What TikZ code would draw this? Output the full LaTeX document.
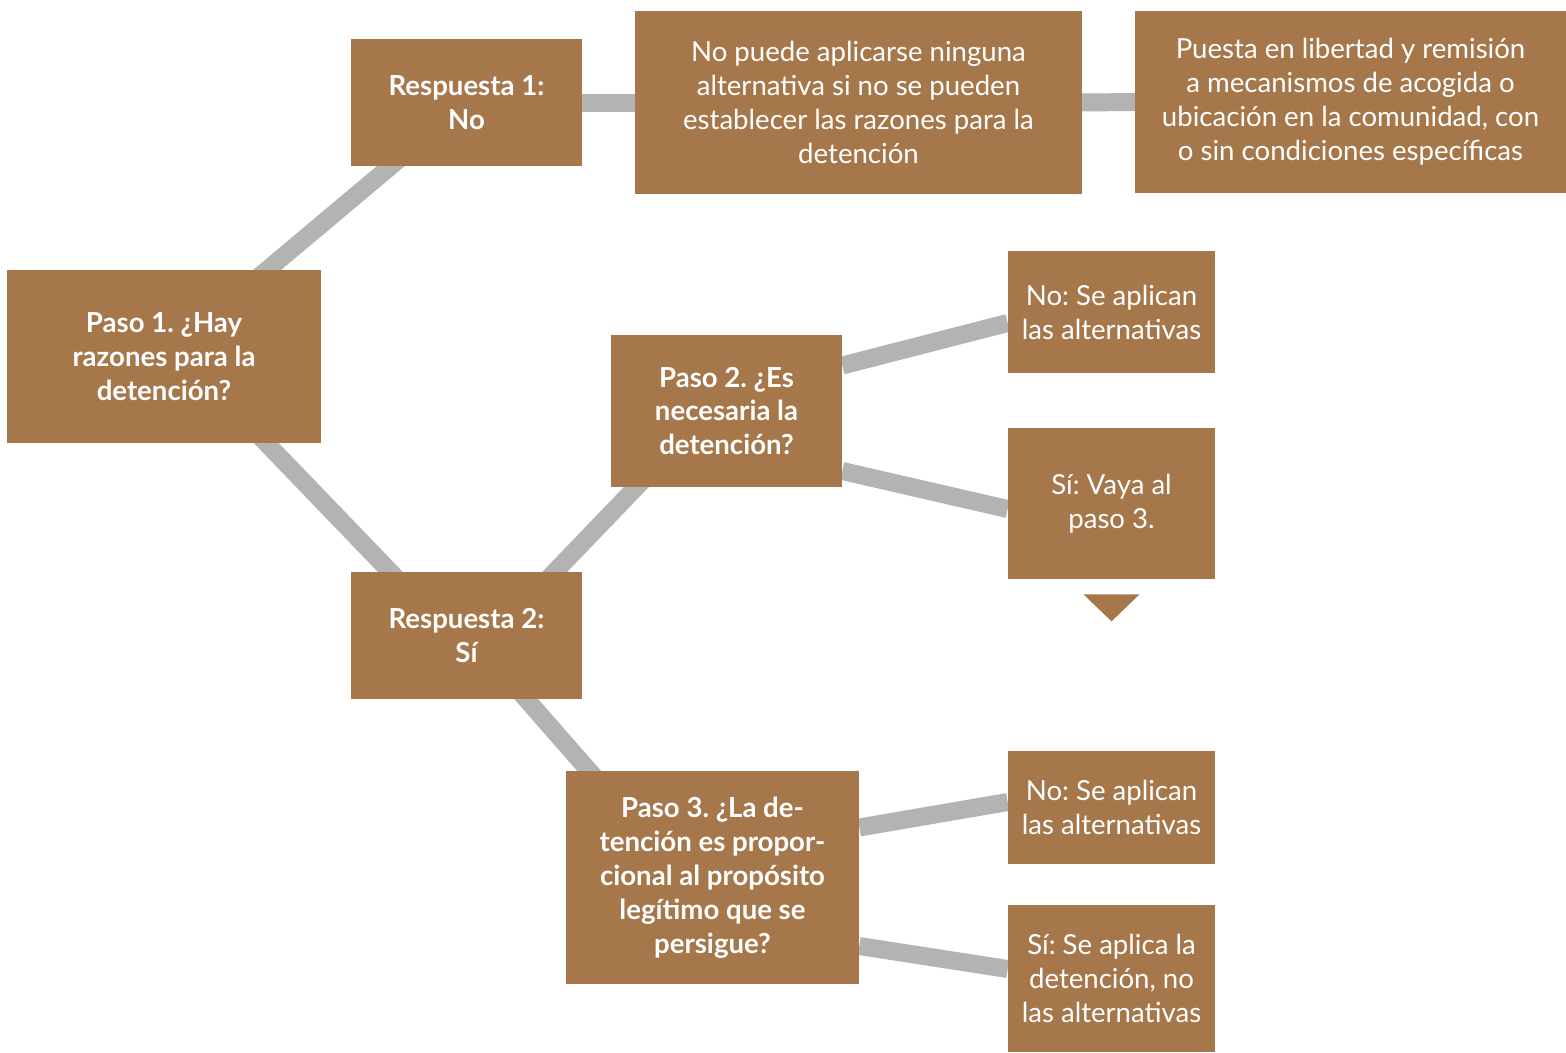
\documentclass[tikz,border=0pt]{standalone}
\usepackage{fontspec}
\usepackage{xcolor}
\usepackage{tikz}
\usetikzlibrary{calc,backgrounds}
\setmainfont{Lato}
\frenchspacing
\definecolor{boxbrown}{RGB}{165,119,74}
\definecolor{linkgray}{RGB}{179,179,179}

\tikzset{
  box/.style={rectangle, fill=boxbrown, text=white, align=center, inner sep=0pt,
    font=\fontsize{15.7}{19.3}\selectfont},
  stepbox/.style={box, font=\fontsize{15.7}{19.3}\selectfont\bfseries},
  link/.style={draw=linkgray, line width=0.36cm}
}

\begin{document}
\begin{tikzpicture}[x=0.02cm,y=-0.02cm]
\useasboundingbox (0,0) rectangle (1566,1052);

% Step 1 and its answers
\node[stepbox, minimum width=6.28cm, minimum height=3.46cm] (p1) at (164,356.5) {Paso 1. ¿Hay\\razones para la\\detención?};
\node[stepbox, minimum width=4.62cm, minimum height=2.54cm] (r1) at (466.5,102.5) {Respuesta 1:\\No};
\node[stepbox, minimum width=4.62cm, minimum height=2.54cm] (r2) at (466.5,635.5) {Respuesta 2:\\Sí};

% Answer 1 outcomes
\node[box, minimum width=8.94cm, minimum height=3.66cm] (noalt) at (858.5,102.5) {No puede aplicarse ninguna\\alternativa si no se pueden\\establecer las razones para la\\detención};
\node[box, minimum width=8.62cm, minimum height=3.64cm] (libre) at (1350.5,102) {Puesta en libertad y remisión\\a mecanismos de acogida o\\ubicación en la comunidad, con\\o sin condiciones específicas};

% Step 2
\node[stepbox, minimum width=4.62cm, minimum height=3.04cm] (p2) at (726.5,411) {Paso 2. ¿Es\\necesaria la\\detención?};
\node[box, minimum width=4.14cm, minimum height=2.44cm] (no2) at (1111.5,312) {No: Se aplican\\las alternativas};
\node[box, minimum width=4.14cm, minimum height=3.02cm] (si2) at (1111.5,503.5) {Sí: Vaya al\\paso 3.};
\fill[boxbrown] ($(si2.south)+(-28,15)$) -- ($(si2.south)+(28,15)$) -- ($(si2.south)+(0,42)$) -- cycle;

% Step 3
\node[stepbox, minimum width=5.86cm, minimum height=4.26cm] (p3) at (712.5,877.5) {Paso 3. ¿La de-\\tención es propor-\\cional al propósito\\legítimo que se\\persigue?};
\node[box, minimum width=4.14cm, minimum height=2.26cm] (no3) at (1111.5,807.5) {No: Se aplican\\las alternativas};
\node[box, minimum width=4.14cm, minimum height=2.94cm] (si3) at (1111.5,978.5) {Sí: Se aplica la\\detención, no\\las alternativas};

% Connections
\begin{scope}[on background layer]
\draw[link] (p1.center) -- (r1.center);
\draw[link] ($(p1.center)+(19,0)$) -- ($(r2.center)+(-15,0)$);
\draw[link] (r1.center) -- (noalt.center);
\draw[link] (noalt.center) -- (libre.center);
\draw[link] ($(r2.center)+(27,0)$) -- ($(p2.center)+(-17,0)$);
\draw[link] ($(r2.center)+(4,0)$) -- ($(p3.center)+(-30,0)$);
\draw[link] ($(p2.east)+(0,-45.5)$) -- ($(no2.west)+(0,11)$);
\draw[link] ($(p2.east)+(0,60)$) -- ($(si2.west)+(0,5.5)$);
\draw[link] ($(p3.east)+(0,-50)$) -- ($(no3.west)+(0,-5.5)$);
\draw[link] ($(p3.east)+(0,68.5)$) -- ($(si3.west)+(0,-9.5)$);
\end{scope}
\end{tikzpicture}
\end{document}
